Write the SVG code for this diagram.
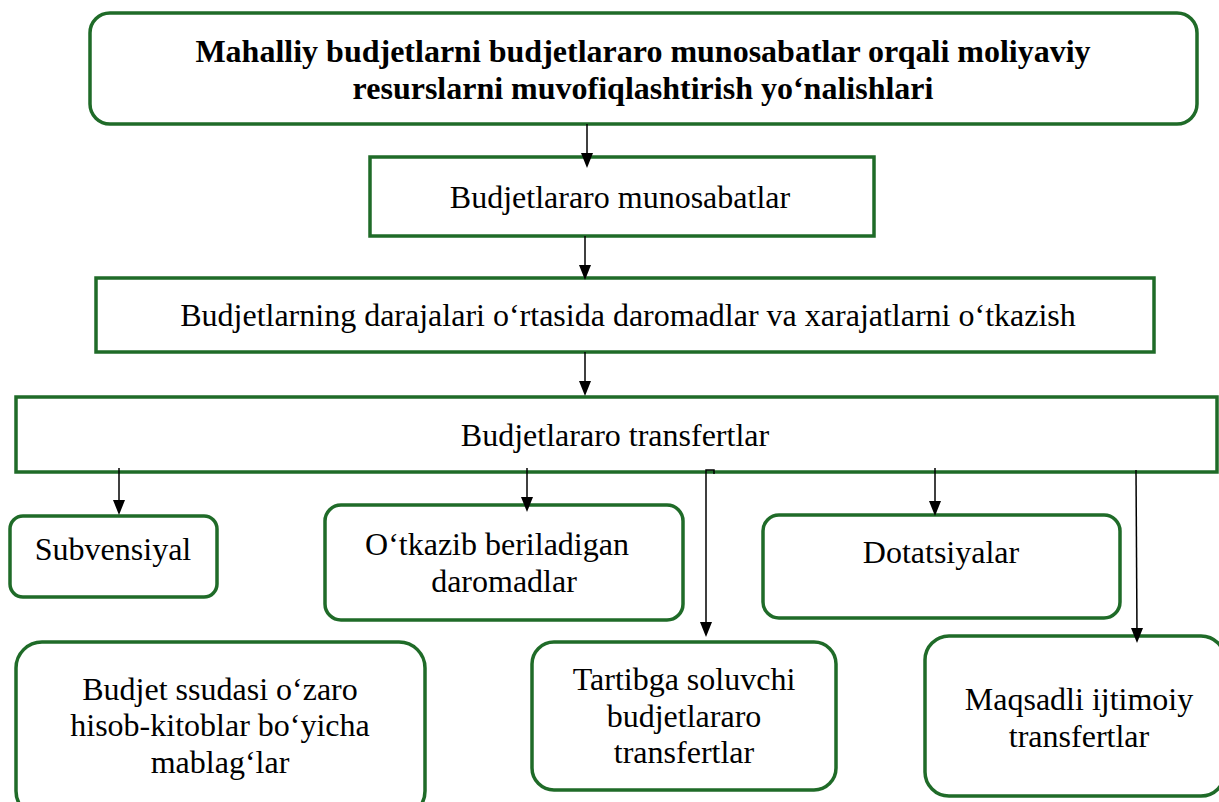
<svg xmlns="http://www.w3.org/2000/svg" width="1219" height="802" viewBox="0 0 1219 802">
<style>
.box{fill:#fff;stroke:#1f6b28;stroke-width:3.5}
.t{font-family:"Liberation Serif","Times New Roman",serif;font-size:32px;fill:#000;text-anchor:middle}
.b{font-weight:bold}
.c{fill:none;stroke:#000;stroke-width:1.5}
</style>
<rect width="1219" height="802" fill="#fff"/>
<g id="n1"><rect class="box" x="90" y="13" width="1107" height="111" rx="20"/>
<text class="t b" x="643" y="62">Mahalliy budjetlarni budjetlararo munosabatlar orqali moliyaviy</text>
<text class="t b" x="643" y="99">resurslarni muvofiqlashtirish yo‘nalishlari</text></g>
<g id="n2"><rect class="box" x="370" y="157" width="504" height="79"/>
<text class="t" x="620" y="208">Budjetlararo munosabatlar</text></g>
<g id="n3"><rect class="box" x="96" y="278" width="1058" height="74"/>
<text class="t" x="628" y="326">Budjetlarning darajalari o‘rtasida daromadlar va xarajatlarni o‘tkazish</text></g>
<g id="n4"><rect class="box" x="16" y="397" width="1201" height="75"/>
<text class="t" x="615" y="446">Budjetlararo transfertlar</text></g>
<g id="n5"><rect class="box" x="10" y="516" width="207" height="81" rx="13"/>
<text class="t" x="113" y="560">Subvensiyal</text></g>
<g id="n6"><rect class="box" x="325" y="505" width="358" height="115" rx="16"/>
<text class="t" x="497" y="555">O‘tkazib beriladigan</text>
<text class="t" x="504" y="592">daromadlar</text></g>
<g id="n7"><rect class="box" x="763" y="515" width="357" height="103" rx="16"/>
<text class="t" x="941" y="563">Dotatsiyalar</text></g>
<g id="n8"><rect class="box" x="16" y="642" width="409" height="175" rx="26"/>
<text class="t" x="220" y="700">Budjet ssudasi o‘zaro</text>
<text class="t" x="220" y="736">hisob-kitoblar bo‘yicha</text>
<text class="t" x="220" y="773">mablag‘lar</text></g>
<g id="n9"><rect class="box" x="532" y="642" width="304" height="148" rx="22"/>
<text class="t" x="684" y="690">Tartibga soluvchi</text>
<text class="t" x="684" y="727">budjetlararo</text>
<text class="t" x="684" y="763">transfertlar</text></g>
<g id="n10"><rect class="box" x="925" y="636" width="300" height="160" rx="24"/>
<text class="t" x="1079" y="710">Maqsadli ijtimoiy</text>
<text class="t" x="1079" y="747">transfertlar</text></g>
<g id="connectors">
<path class="c" d="M587 124 V160"/><path d="M581 153 H593 L587 168 Z"/>
<path class="c" d="M585 236 V272"/><path d="M579 265 H591 L585 280 Z"/>
<path class="c" d="M585 352 V388"/><path d="M579 381 H591 L585 396 Z"/>
<path class="c" d="M119 468 V507"/><path d="M113 500 H125 L119 515 Z"/>
<path class="c" d="M527 468 V504"/><path d="M521 497 H533 L527 512 Z"/>
<path class="c" d="M935 468 V508"/><path d="M929 501 H941 L935 516 Z"/>
<path class="c" d="M706 630 V470 H714 V474"/><path d="M700 622 H712 L706 637 Z"/>
<path class="c" d="M1136 470 L1137 634"/><path d="M1131 628 H1143 L1137 643 Z"/>
</g>
</svg>
